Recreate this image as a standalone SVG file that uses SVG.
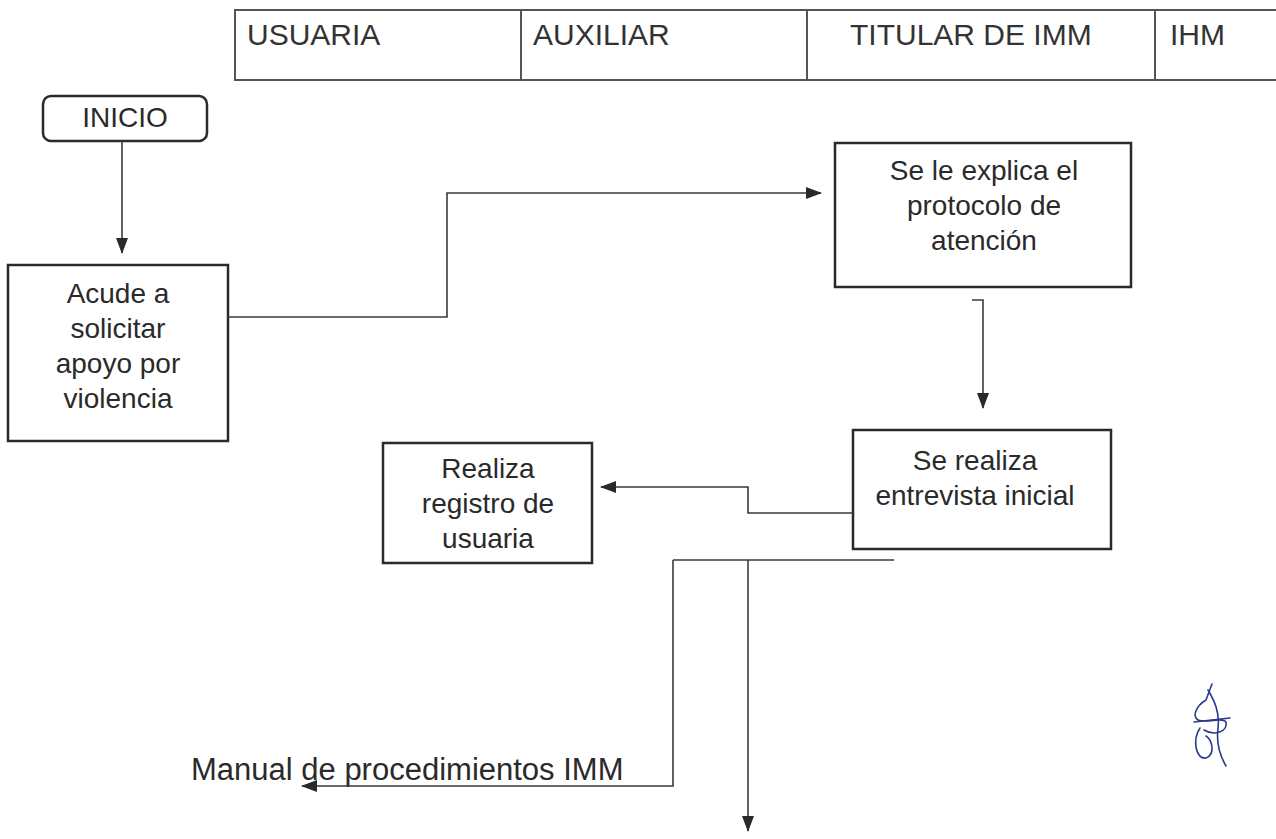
<svg xmlns="http://www.w3.org/2000/svg" width="1276" height="839" viewBox="0 0 1276 839">
<defs>
<style>
.box{fill:none;stroke:#2a2a2a;stroke-width:2.5}
.hdr{fill:none;stroke:#555;stroke-width:2}
.ln{fill:none;stroke:#3a3a3a;stroke-width:1.6}
.t{font-family:"Liberation Sans",Arial,sans-serif;font-size:28px;fill:#2a2a2a}
.h{font-family:"Liberation Sans",Arial,sans-serif;font-size:30px;fill:#333}
.m{font-family:"Liberation Sans",Arial,sans-serif;font-size:31px;fill:#2a2a2a}
.c{text-anchor:middle}
</style>
<marker id="ah" viewBox="0 0 16 12" refX="15" refY="6" markerWidth="16" markerHeight="12" markerUnits="userSpaceOnUse" orient="auto">
<path d="M0,0 L16,6 L0,12 Z" fill="#2a2a2a"/>
</marker>
</defs>
<rect width="1276" height="839" fill="#fff"/>

<g id="header">
<rect class="hdr" x="235" y="10" width="1060" height="70"/>
<line class="hdr" x1="521" y1="10" x2="521" y2="80"/>
<line class="hdr" x1="807" y1="10" x2="807" y2="80"/>
<line class="hdr" x1="1155" y1="10" x2="1155" y2="80"/>
<text class="h" x="247" y="45">USUARIA</text>
<text class="h" x="533" y="45">AUXILIAR</text>
<text class="h" x="850" y="45">TITULAR DE IMM</text>
<text class="h" x="1170" y="45">IHM</text>
</g>

<g id="inicio">
<rect class="box" x="43" y="96" width="164" height="45" rx="8"/>
<text class="t c" x="125" y="127">INICIO</text>
</g>

<g id="acude">
<rect class="box" x="8" y="265" width="220" height="176"/>
<text class="t c" x="118" y="303">Acude a</text>
<text class="t c" x="118" y="338">solicitar</text>
<text class="t c" x="118" y="373">apoyo por</text>
<text class="t c" x="118" y="408">violencia</text>
</g>

<g id="explica">
<rect class="box" x="835" y="143" width="296" height="144"/>
<text class="t c" x="984" y="180">Se le explica el</text>
<text class="t c" x="984" y="215">protocolo de</text>
<text class="t c" x="984" y="250">atención</text>
</g>

<g id="entrevista">
<rect class="box" x="853" y="430" width="258" height="119"/>
<text class="t c" x="975" y="470">Se realiza</text>
<text class="t c" x="975" y="505">entrevista inicial</text>
</g>

<g id="registro">
<rect class="box" x="383" y="443" width="209" height="120"/>
<text class="t c" x="488" y="478">Realiza</text>
<text class="t c" x="488" y="513">registro de</text>
<text class="t c" x="488" y="548">usuaria</text>
</g>

<g id="manual">
<text class="m" x="191" y="780">Manual de procedimientos IMM</text>
</g>

<g id="connectors">
<line class="ln" x1="122" y1="141" x2="122" y2="253" marker-end="url(#ah)"/>
<polyline class="ln" points="228,317 447,317 447,193 821,193" marker-end="url(#ah)"/>
<polyline class="ln" points="972,300 983,300 983,408" marker-end="url(#ah)"/>
<polyline class="ln" points="853,513 748,513 748,487 601,487" marker-end="url(#ah)"/>
<line class="ln" x1="673" y1="560" x2="894" y2="560"/>
<polyline class="ln" points="673,560 673,786 302,786" marker-end="url(#ah)"/>
<line class="ln" x1="748" y1="560" x2="748" y2="831" marker-end="url(#ah)"/>
</g>

<g id="signature" fill="none" stroke="#2b3a8c" stroke-width="1.6" stroke-linecap="round">
<path d="M1212,684 L1206,700 C1196,706 1192,716 1198,720 C1208,724 1222,716 1226,722 C1228,732 1214,736 1204,730"/>
<path d="M1200,728 C1192,740 1196,760 1206,758 C1216,754 1212,740 1206,736"/>
<path d="M1208,690 C1214,700 1220,712 1218,728 C1216,744 1220,756 1226,766"/>
<path d="M1194,722 L1230,718"/>
</g>
</svg>
